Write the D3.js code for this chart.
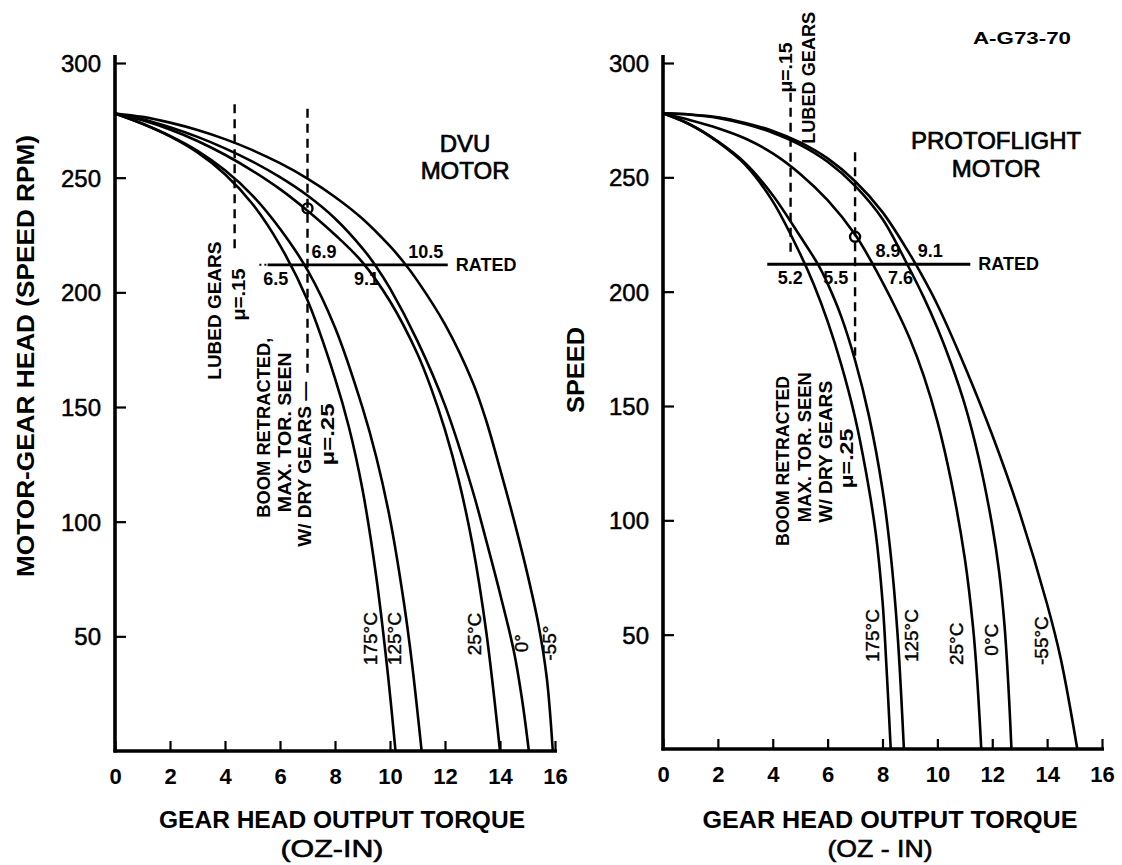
<!DOCTYPE html>
<html><head><meta charset="utf-8">
<script src="https://cdn.jsdelivr.net/npm/d3@7"></script>
<style>body{margin:0;background:#fff}svg{display:block}text{font-family:"Liberation Sans",Arial,sans-serif;fill:#000}</style>
</head><body><svg id="c" width="1122" height="865"></svg>
<script>
// ---------- data ----------
const xTicks = [0,2,4,6,8,10,12,14,16];
const yTicks = [50,100,150,200,250,300];
const ratedSpeed = 212;

// DVU motor (left) : [torque oz-in, speed rpm]
const dvu175 = [[0,278],[1,273.5],[2,268],[3,261],[4,251.5],[5,238.5],[6,220.5],[7,196.5],[8,162.5],[8.5,141.5],[9,114],[9.5,76],[9.9,36],[10.2,0]];
const dvu125 = [[0,278],[1,273.5],[2,268.2],[3,261.7],[4,253.2],[5,242.2],[6,227.7],[7,209.7],[8,184.7],[9,149.7],[9.5,128.2],[10,101.2],[10.5,65.2],[10.8,38.2],[11.15,0]];
const dvu25  = [[0,278],[1,275],[2,271],[3,266],[4,260],[5,253],[6,245],[7,235.6],[8,225.1],[9,213.1],[10,196.1],[11,173.1],[11.5,158],[12,140],[12.5,118],[13,90],[13.5,52],[14,0]];
const dvu0   = [[0,278],[1,275.5],[2,272],[3,267.8],[4,262.8],[5,257],[6,250.2],[7,242.2],[8,232.2],[9,219.2],[9.5,211.2],[10,201.7],[11,178.7],[12,150.7],[13,113.7],[13.5,91.7],[14,68.7],[14.5,43.7],[14.8,22.7],[15.05,0]];
const dvuM55 = [[0,278],[1,276.5],[2,274],[3,270.8],[4,266.8],[5,262],[6,256.3],[7,249.6],[8,241.6],[9,232.1],[10,220.1],[10.5,213.1],[11,205],[12,186],[13,161],[13.5,144],[14,123],[14.5,101],[15,77],[15.4,55],[15.7,32],[15.92,0]];

// Protoflight motor (right)
const pf175 = [[0,278],[1,273],[2,265.5],[3,255.5],[4,239.5],[5,216.5],[5.5,203],[6,187],[6.5,168],[7,145],[7.4,121],[7.75,94.75],[8,64.75],[8.15,34.75],[8.3,0]];
const pf125 = [[0,278],[1,273],[2,265.7],[3,256.2],[4,242.2],[5,224.2],[5.65,211.9],[6,203.5],[6.5,189],[7,170],[7.5,146],[8,113.5],[8.3,85],[8.55,50],[8.78,0]];
const pf25   = [[0,278],[1,275],[2,271.5],[3,267],[4,260.5],[5,251.5],[6,240],[7,225],[7.6,213],[8.5,192.3],[9,179.3],[9.5,163.3],[10,143.3],[10.5,117.3],[11,83.3],[11.3,53.3],[11.45,30.8],[11.6,0]];
const pf0    = [[0,278],[1,277.4],[2,276],[3,273.3],[4,269.5],[5,264.2],[6,256.8],[7,246.3],[8,231.8],[8.9,212],[9.5,197.6],[10,184.1],[10.5,168.6],[11,150.6],[11.5,127.6],[12,97.6],[12.25,77.6],[12.45,53.6],[12.6,25],[12.7,0]];
const pfM55  = [[0,278],[1,277.5],[2,276.3],[3,273.8],[4,270.3],[5,265.3],[6,258.3],[7,248.3],[8,234.8],[9,216.3],[9.5,205.8],[10,194.3],[11,167.3],[12,137.3],[13,103.3],[14,63.3],[14.5,39.3],[15.1,0]];

const dvuLabels = ["175°C","125°C","25°C","0°","-55°"];
const pfLabels  = ["175°C","125°C","25°C","0°C","-55°C"];
const dvuRatedVals = ["6.5","6.9","9.1","10.5"];
const pfRatedVals  = ["5.2","5.5","7.6","8.9","9.1"];

// ---------- drawing ----------
const svg = d3.select("#c");

function rtext(g, x, y, str, size, weight, len){
  const t = g.append("text").attr("transform",`translate(${x},${y}) rotate(-90)`)
    .attr("text-anchor","middle").attr("dominant-baseline","central")
    .attr("font-size",size).attr("font-weight",weight||"bold").text(str);
  if(len) t.attr("textLength",len).attr("lengthAdjust","spacingAndGlyphs");
  return t;
}
function htext(g, x, y, str, size, weight, anchor, len){
  const t = g.append("text").attr("x",x).attr("y",y)
    .attr("text-anchor",anchor||"middle").attr("dominant-baseline","central")
    .attr("font-size",size).attr("font-weight",weight||"bold").text(str);
  if(len) t.attr("textLength",len).attr("lengthAdjust","spacingAndGlyphs");
  return t;
}

function panel(cfg){
  const g = svg.append("g");
  const x = d3.scaleLinear().domain([0,16]).range(cfg.xr);
  const y = d3.scaleLinear().domain([0,300]).range(cfg.yr);

  // axes
  const ya = d3.axisLeft(y).tickValues(yTicks).tickSize(-11).tickPadding(14).tickFormat(d3.format("d"));
  const yg = g.append("g").attr("transform",`translate(${x(0)},0)`).call(ya);
  yg.select(".domain").remove();
  yg.selectAll(".tick line").attr("stroke","#000").attr("stroke-width",2.2);
  yg.selectAll(".tick text").attr("font-size",24).attr("font-family","Liberation Sans, Arial")
    .attr("fill","#000").attr("stroke","#000").attr("stroke-width",0.5).attr("dy","0.35em");

  const xa = d3.axisBottom(x).tickValues(xTicks).tickSize(-10).tickPadding(17).tickFormat(d3.format("d"));
  const xg = g.append("g").attr("transform",`translate(0,${y(0)})`).call(xa);
  xg.select(".domain").remove();
  xg.selectAll(".tick line").attr("stroke","#000").attr("stroke-width",2.2);
  xg.selectAll(".tick text").attr("font-size",22).attr("font-weight","bold").attr("font-family","Liberation Sans, Arial").attr("fill","#000");

  g.append("line").attr("x1",x(0)).attr("x2",x(0)).attr("y1",y(300)-8).attr("y2",y(0)+1.5)
    .attr("stroke","#000").attr("stroke-width",3.6);
  g.append("line").attr("x1",x(0)-1.5).attr("x2",x(16)+2).attr("y1",y(0)).attr("y2",y(0))
    .attr("stroke","#000").attr("stroke-width",3.6);

  // curves
  const line = d3.line().x(d=>x(d[0])).y(d=>y(d[1])).curve(d3.curveCatmullRom.alpha(0.5));
  cfg.series.forEach(s=>{
    g.append("path").attr("d",line(s)).attr("fill","none").attr("stroke","#000").attr("stroke-width",2.6);
  });

  // curve labels
  cfg.seriesLabels.forEach((l,i)=>{
    const p = cfg.labelPos[i];
    rtext(g, x(p[0]), y(p[1]), l, 19, "normal").attr("stroke","#000").attr("stroke-width",0.4);
  });

  // rated line
  g.append("line").attr("x1",x(cfg.rated[0])).attr("x2",x(cfg.rated[1])).attr("y1",y(ratedSpeed)).attr("y2",y(ratedSpeed))
    .attr("stroke","#000").attr("stroke-width",2.8);
  htext(g, x(cfg.rated[1])+8, y(ratedSpeed), "RATED", 18, "bold", "start");
  cfg.ratedVals.forEach((v,i)=>{
    const p = cfg.ratedPos[i];
    htext(g, x(p[0]), y(ratedSpeed) + (p[1]>0?-13:14), v, 18, "bold");
  });

  // dashed reference lines
  cfg.dashes.forEach(d=>{
    g.append("line").attr("x1",x(d[0])).attr("x2",x(d[0])).attr("y1",y(d[1])).attr("y2",y(d[2]))
      .attr("stroke","#000").attr("stroke-width",2.4).attr("stroke-dasharray","9,6");
  });
  // operating point circle
  g.append("circle").attr("cx",x(cfg.circle[0])).attr("cy",y(cfg.circle[1])).attr("r",5)
    .attr("fill","none").attr("stroke","#000").attr("stroke-width",2.4);

  // notes
  cfg.notes.forEach(n=>{
    rtext(g, x(n[1]), y(n[2]), n[0], n[3]||18, "bold", n[4]);
  });
  // title
  htext(g, x(cfg.title[1]), y(cfg.title[2]), cfg.title[0][0], 24, "normal").attr("stroke","#000").attr("stroke-width",0.7);
  htext(g, x(cfg.title[1]), y(cfg.title[2])+cfg.title[3], cfg.title[0][1], 24, "normal").attr("stroke","#000").attr("stroke-width",0.7);
  return {g,x,y};
}

const L = panel({
  xr:[115,555], yr:[751,63],
  series:[dvu175,dvu125,dvu25,dvu0,dvuM55],
  seriesLabels:dvuLabels,
  labelPos:[[9.28,49],[10.18,49],[13.09,51],[14.77,47],[15.8,47]],
  rated:[5.55,12.1],
  ratedVals:dvuRatedVals,
  ratedPos:[[5.85,-1],[7.6,1],[9.15,-1],[11.3,1]],
  dashes:[[4.35,282,217],[7.0,280,164]],
  circle:[7.0,236.6],
  notes:[["LUBED GEARS",3.65,192,18,138],["μ=.15",4.5,199,18,52],
         ["BOOM RETRACTED,",5.4,141,18,180],["MAX. TOR. SEEN",6.18,139,18,160],["W/ DRY GEARS —",6.92,125,18,165],["μ=.25",7.75,138,18,62]],
  title:[["DVU","MOTOR"],12.73,265,27]
});
// dotted start of rated line (left)
L.g.append("line").attr("x1",L.x(5.25)).attr("x2",L.x(5.55)).attr("y1",L.y(ratedSpeed)).attr("y2",L.y(ratedSpeed))
  .attr("stroke","#000").attr("stroke-width",2).attr("stroke-dasharray","2,3");

const R = panel({
  xr:[663,1102], yr:[749,63],
  series:[pf175,pf125,pf25,pf0,pfM55],
  seriesLabels:pfLabels,
  labelPos:[[7.62,49.6],[9.05,49.6],[10.68,46],[11.97,47.8],[13.79,47.4]],
  rated:[3.8,11.2],
  ratedVals:pfRatedVals,
  ratedPos:[[4.64,-1],[6.3,-1],[8.66,-1],[8.2,1],[9.74,1]],
  dashes:[[4.65,287,216],[7.0,261,172]],
  circle:[7.0,224],
  notes:[["μ=.15",4.48,298,18,50],["LUBED GEARS",5.32,293.5,18,132],
         ["BOOM RETRACTED",4.38,126,18,170],["MAX. TOR. SEEN",5.16,132,18,150],["W/ DRY GEARS",5.94,130,18,142],["μ=.25",6.71,127,18,60]],
  title:[["PROTOFLIGHT","MOTOR"],12.14,266,28]
});

// axis titles
rtext(svg, 25, 356, "MOTOR-GEAR HEAD (SPEED RPM)", 24, "bold", 442);
rtext(svg, 575, 370, "SPEED", 24, "bold", 86);
htext(svg, 342, 819, "GEAR HEAD OUTPUT TORQUE", 24, "bold", "middle", 366);
htext(svg, 332, 848, "(OZ-IN)", 24, "normal", "middle", 103).attr("stroke","#000").attr("stroke-width",0.6);
htext(svg, 890, 819, "GEAR HEAD OUTPUT  TORQUE", 24, "bold", "middle", 375);
htext(svg, 880, 848, "(OZ - IN)", 24, "normal", "middle", 105).attr("stroke","#000").attr("stroke-width",0.6);
htext(svg, 1022, 38, "A-G73-70", 16, "bold", "middle", 98);
</script></body></html>
